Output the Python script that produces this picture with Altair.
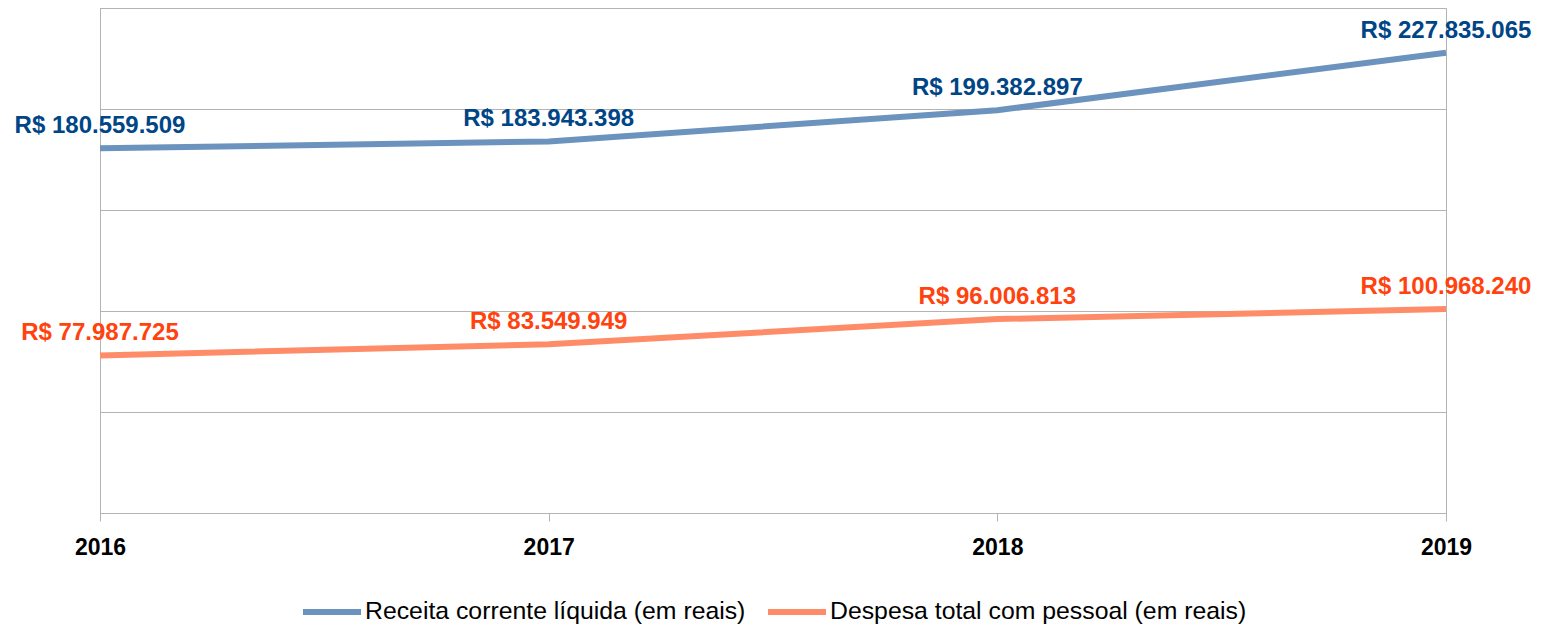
import altair as alt
import pandas as pd

years = [2016, 2017, 2018, 2019]
receita = [180559509, 183943398, 199382897, 227835065]
despesa = [77987725, 83549949, 96006813, 100968240]
series_names = ["Receita corrente líquida (em reais)", "Despesa total com pessoal (em reais)"]
line_colors = ["#6b93be", "#ff8c69"]
label_colors = ["#004586", "#ff420e"]


def brl(v):
    return "R$ " + f"{v:,}".replace(",", ".")


rows = []
for name, vals in zip(series_names, [receita, despesa]):
    for y, v in zip(years, vals):
        rows.append({"ano": y, "valor": v, "serie": name, "rotulo": brl(v)})
df = pd.DataFrame(rows)

FONT = "Liberation Sans"

x = alt.X("ano:Q", scale=alt.Scale(domain=[2016, 2019], nice=False, zero=False),
          axis=alt.Axis(values=years, format="d", title=None, grid=False,
                        labelFont=FONT, labelFontSize=23, labelFontWeight="bold",
                        labelColor="#000000", tickSize=8, tickColor="#b3b3b3",
                        domainColor="#b3b3b3", labelPadding=15, labelFlush=False))
y = alt.Y("valor:Q", scale=alt.Scale(domain=[0, 250000000], nice=False),
          axis=alt.Axis(values=[0, 50000000, 100000000, 150000000, 200000000, 250000000],
                        title=None, labels=False, ticks=False, grid=True,
                        gridColor="#b3b3b3", domainColor="#b3b3b3"))

lines = alt.Chart(df).mark_line(strokeWidth=6).encode(
    x=x, y=y,
    color=alt.Color("serie:N", sort=series_names,
                    scale=alt.Scale(domain=series_names, range=line_colors),
                    legend=alt.Legend(title=None, orient="none", direction="horizontal",
                                      legendX=200, legendY=572,
                                      symbolType="stroke", symbolSize=3364,
                                      symbolStrokeWidth=6, labelFont=FONT,
                                      labelFontSize=24.8, labelColor="#000000",
                                      columnPadding=10, labelOffset=1,
                                      labelLimit=600)),
    detail="serie:N",
)

labels = alt.Chart(df).mark_text(font=FONT, fontSize=24, fontWeight="bold",
                                 baseline="middle", align="center", dy=-22).encode(
    x="ano:Q", y="valor:Q", text="rotulo:N",
    color=alt.Color("serie:N", scale=alt.Scale(domain=series_names, range=label_colors),
                    legend=None),
)

chart = alt.layer(lines, labels).resolve_scale(color="independent").properties(
    width=1346, height=505,
    autosize=alt.AutoSizeParams(type="none"),
    padding={"left": 92, "top": 0, "right": 94, "bottom": 112},
).configure_view(stroke="#b3b3b3")

chart.save("out.html", embed_options={"renderer": "svg", "actions": False})
